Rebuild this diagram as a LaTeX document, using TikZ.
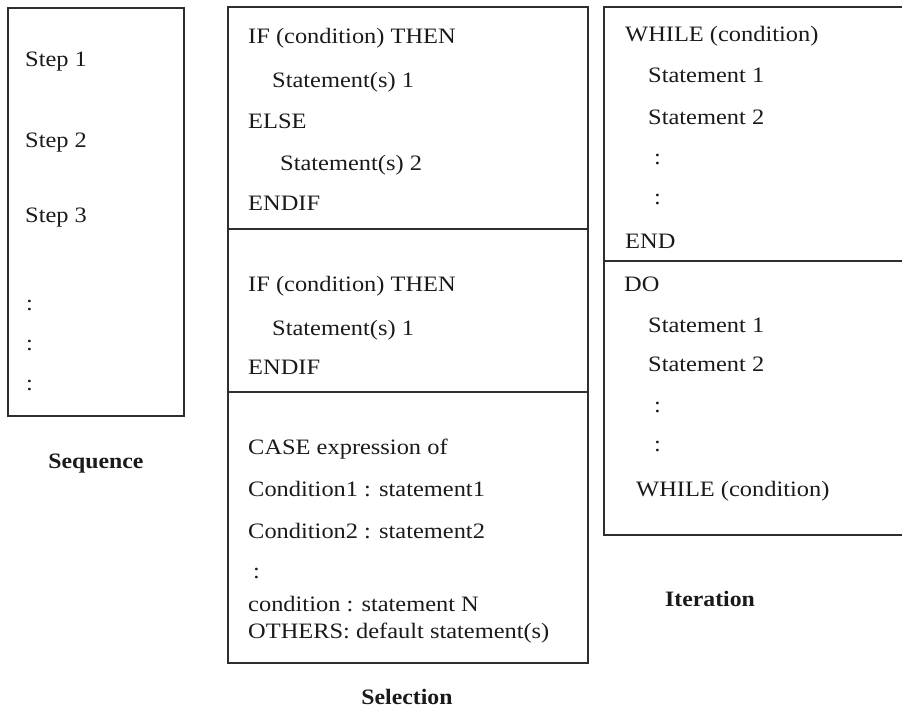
\documentclass[tikz,border=0pt]{standalone}
\usepackage{fontspec}
\setmainfont{Liberation Serif}
\usetikzlibrary{positioning}
\definecolor{Ink}{HTML}{1A1A1A}
\definecolor{Frame}{HTML}{2E2E2E}
\tikzset{frame/.style={draw=Frame,line width=1.6pt},txt/.style={anchor=base west,inner sep=0pt,text=Ink,font=\fontsize{22}{26}\selectfont,xscale=1.11},caption/.style={anchor=base,inner sep=0pt,text=Ink,font=\fontsize{22}{26}\selectfont\bfseries,xscale=1.08}}

\begin{document}
\begin{tikzpicture}[x=1pt,y=-1pt]
  \useasboundingbox (0,0) rectangle (902,707);
  % sequence
  \draw[frame] (8,8) rectangle (184,416);
  \node[txt] (seq1) at (25,66) {Step 1};
  \node[txt] (seq2) at (25,147) {Step 2};
  \node[txt] (seq3) at (25,222) {Step 3};
  \node[txt] (seqd1) at (26,310) {:};
  \node[txt] (seqd2) at (26,350) {:};
  \node[txt] (seqd3) at (26,390) {:};
  \node[caption] (seqcap) at (96,468) {Sequence};
  % selection
  \draw[frame] (228,7) rectangle (588,663);
  \draw[frame] (228,229) -- (588,229);
  \draw[frame] (228,392) -- (588,392);
  \node[txt] (ife1) at (248,43) {IF (condition) THEN};
  \node[txt] (ife2) at (272,87) {Statement(s) 1};
  \node[txt] (ife3) at (248,128) {ELSE};
  \node[txt] (ife4) at (280,170) {Statement(s) 2};
  \node[txt] (ife5) at (248,210) {ENDIF};
  \node[txt] (if1) at (248,291) {IF (condition) THEN};
  \node[txt] (if2) at (272,335) {Statement(s) 1};
  \node[txt] (if3) at (248,374) {ENDIF};
  \node[txt] (case1) at (248,454) {CASE expression of};
  \node[txt] (case2) at (248,496) {Condition1 : statement1};
  \node[txt] (case3) at (248,538) {Condition2 : statement2};
  \node[txt] (case4) at (253,578) {:};
  \node[txt] (case5) at (248,611) {condition : statement N};
  \node[txt] (case6) at (248,638) {OTHERS: default statement(s)};
  \node[caption] (selcap) at (407,704) {Selection};
  % iteration
  \draw[frame] (604,7) rectangle (912,535);
  \draw[frame] (604,261) -- (912,261);
  \node[txt] (wh1) at (625,41) {WHILE (condition)};
  \node[txt] (wh2) at (648,82) {Statement 1};
  \node[txt] (wh3) at (648,124) {Statement 2};
  \node[txt] (wh4) at (654,164) {:};
  \node[txt] (wh5) at (654,204) {:};
  \node[txt] (wh6) at (625,248) {END};
  \node[txt] (do1) at (624,291) {DO};
  \node[txt] (do2) at (648,332) {Statement 1};
  \node[txt] (do3) at (648,371) {Statement 2};
  \node[txt] (do4) at (654,412) {:};
  \node[txt] (do5) at (654,451) {:};
  \node[txt] (do6) at (636,496) {WHILE (condition)};
  \node[caption] (itcap) at (710,606) {Iteration};
\end{tikzpicture}
\end{document}
